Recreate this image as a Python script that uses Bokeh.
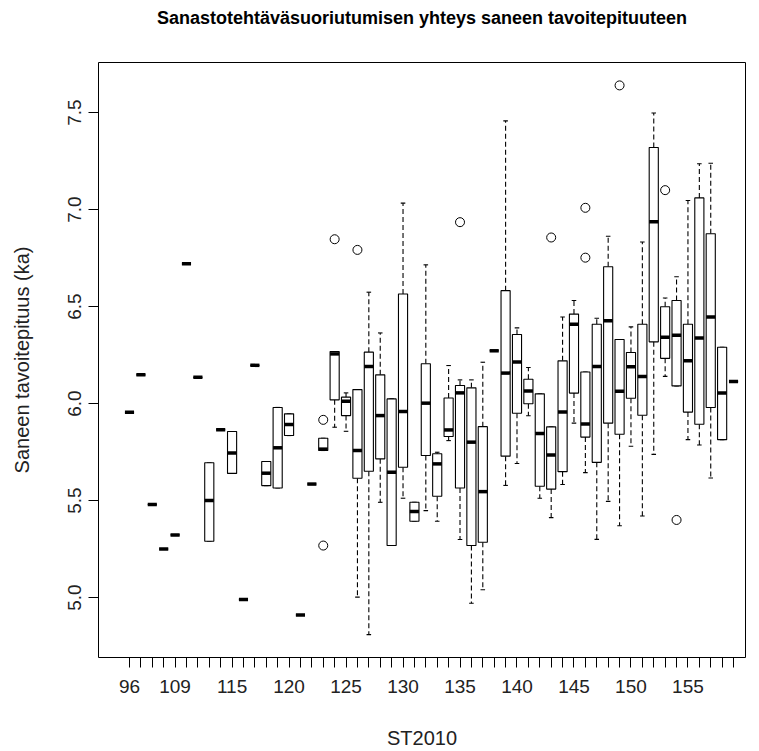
from bokeh.plotting import figure
from bokeh.models import Range1d, FixedTicker, PrintfTickFormatter, Title
from bokeh.embed import file_html
from bokeh.resources import INLINE

# ST2010 score groups (one box per group)
st2010 = [96, 100, 103, 106, 109, 110, 111, 112, 113, 115,
          116, 117, 118, 119, 120, 121, 122, 123, 124, 125,
          126, 127, 128, 129, 130, 131, 132, 133, 134, 135,
          136, 137, 138, 139, 140, 141, 142, 143, 144, 145,
          146, 147, 148, 149, 150, 151, 152, 153, 154, 155,
          156, 157, 158, 159]

# tick labels that are printed under the axis
shown_labels = [96, 109, 115, 120, 125, 130, 135, 140, 145, 150, 155]

# five-number summaries of "Saneen tavoitepituus (ka)" per group
whisker_low = [5.955, 6.148, 5.480, 5.250, 5.323, 6.720, 6.135, 5.290, 5.865, 5.640,
               4.990, 6.197, 5.577, 5.565, 5.835, 4.910, 5.585, 5.758, 5.878, 5.857,
               5.002, 4.809, 5.491, 5.268, 5.512, 5.393, 5.448, 5.393, 5.809, 5.299,
               4.971, 5.040, 6.272, 5.578, 5.691, 5.937, 5.512, 5.412, 5.583, 5.899,
               5.644, 5.300, 5.496, 5.370, 5.780, 5.420, 5.738, 6.140, 6.091, 5.814,
               5.786, 5.616, 5.814, 6.114]
quart_low = [5.955, 6.148, 5.480, 5.250, 5.323, 6.720, 6.135, 5.290, 5.865, 5.640,
             4.990, 6.197, 5.577, 5.565, 5.835, 4.910, 5.585, 5.758, 6.019, 5.938,
             5.615, 5.651, 5.715, 5.268, 5.672, 5.393, 5.732, 5.522, 5.830, 5.565,
             5.268, 5.285, 6.272, 5.729, 5.950, 5.999, 5.574, 5.559, 5.649, 6.054,
             5.827, 5.697, 5.899, 5.842, 6.027, 5.940, 6.318, 6.233, 6.091, 5.956,
             5.893, 5.980, 5.814, 6.114]
median = [5.955, 6.148, 5.480, 5.250, 5.323, 6.720, 6.135, 5.500, 5.865, 5.745,
          4.990, 6.197, 5.641, 5.772, 5.892, 4.910, 5.585, 5.765, 6.256, 6.012,
          5.758, 6.191, 5.938, 5.646, 5.959, 5.443, 6.002, 5.689, 5.864, 6.055,
          5.801, 5.546, 6.272, 6.157, 6.214, 6.065, 5.846, 5.735, 5.956, 6.409,
          5.895, 6.191, 6.427, 6.063, 6.190, 6.140, 6.937, 6.342, 6.352, 6.220,
          6.338, 6.446, 6.054, 6.114]
quart_high = [5.955, 6.148, 5.480, 5.250, 5.323, 6.720, 6.135, 5.695, 5.865, 5.856,
              4.990, 6.197, 5.701, 5.980, 5.947, 4.910, 5.585, 5.821, 6.268, 6.033,
              6.072, 6.265, 6.148, 6.024, 6.565, 5.491, 6.205, 5.741, 6.029, 6.093,
              6.081, 5.881, 6.272, 6.582, 6.356, 6.125, 6.050, 5.880, 6.220, 6.461,
              6.163, 6.409, 6.705, 6.330, 6.263, 6.409, 7.320, 6.499, 6.531, 6.409,
              7.060, 6.875, 6.290, 6.114]
whisker_high = [5.955, 6.148, 5.480, 5.250, 5.323, 6.720, 6.135, 5.695, 5.865, 5.856,
                4.990, 6.197, 5.701, 5.980, 5.947, 4.910, 5.585, 5.821, 6.268, 6.055,
                6.072, 6.574, 6.364, 6.024, 7.033, 5.491, 6.715, 5.749, 6.196, 6.122,
                6.122, 6.213, 6.272, 7.457, 6.390, 6.186, 6.050, 5.880, 6.446, 6.531,
                6.163, 6.440, 6.862, 6.330, 6.395, 6.833, 7.498, 6.544, 6.654, 7.047,
                7.236, 7.239, 6.290, 6.114]

# outlying group values
outlier_st = [123, 123, 124, 126, 135, 143, 146, 146, 149, 153, 154]
outlier_value = [5.916, 5.268, 6.847, 6.792, 6.935, 6.856, 7.009, 6.752, 7.640, 7.100, 5.400]

pos = list(range(1, len(st2010) + 1))
pos_of = {g: i + 1 for i, g in enumerate(st2010)}
half = 0.4      # half box width
staple = 0.2    # half staple width

p = figure(width=759, height=751,
           x_range=Range1d(-1.72, 55.05), y_range=Range1d(4.691, 7.758),
           output_backend="svg", toolbar_location=None,
           min_border_left=98, min_border_right=14,
           min_border_top=62, min_border_bottom=94)
p.grid.visible = False
p.outline_line_color = "black"
p.outline_line_width = 1
p.background_fill_color = "white"
p.border_fill_color = "white"

# empty strip that keeps the title up in the top margin
p.add_layout(Title(text=" ", text_font_size="1px", standoff=32), "above")

p.title.text = "Sanastotehtäväsuoriutumisen yhteys saneen tavoitepituuteen"
p.title.align = "center"
p.title.text_font = "Liberation Sans"
p.title.text_font_style = "bold"
p.title.text_font_size = "18px"
p.title.text_color = "black"
p.title.standoff = 0

# whiskers (dashed) and staples
p.segment(x0=pos, x1=pos, y0=quart_high, y1=whisker_high,
          line_color="black", line_width=1.1, line_dash="5 3")
p.segment(x0=pos, x1=pos, y0=quart_low, y1=whisker_low,
          line_color="black", line_width=1.1, line_dash="5 3")
p.segment(x0=[x - staple for x in pos], x1=[x + staple for x in pos],
          y0=whisker_high, y1=whisker_high, line_color="black", line_width=1.1)
p.segment(x0=[x - staple for x in pos], x1=[x + staple for x in pos],
          y0=whisker_low, y1=whisker_low, line_color="black", line_width=1.1)

# boxes
p.quad(left=[x - half for x in pos], right=[x + half for x in pos],
       bottom=quart_low, top=quart_high,
       fill_color="white", line_color="black", line_width=1.1)

# medians
p.segment(x0=[x - half for x in pos], x1=[x + half for x in pos],
          y0=median, y1=median, line_color="black", line_width=3.5,
          line_cap="butt")

# outliers
p.scatter(x=[pos_of[g] for g in outlier_st], y=outlier_value, marker="circle",
          size=9, fill_color=None, line_color="black", line_width=1)

# x axis: one tick per group, only some labels printed
p.xaxis.ticker = FixedTicker(ticks=pos)
p.xaxis.major_label_overrides = {
    i + 1: (str(g) if g in shown_labels else "") for i, g in enumerate(st2010)}
p.xaxis.bounds = (1, len(st2010))
p.xaxis.axis_label = "ST2010"

p.yaxis.ticker = FixedTicker(ticks=[5.0, 5.5, 6.0, 6.5, 7.0, 7.5])
p.yaxis.formatter = PrintfTickFormatter(format="%.1f")
p.yaxis.bounds = (5.0, 7.5)
p.yaxis.major_label_orientation = "vertical"
p.yaxis.axis_label = "Saneen tavoitepituus (ka)"

for ax in (p.xaxis[0], p.yaxis[0]):
    ax.axis_line_color = "black"
    ax.major_tick_line_color = "black"
    ax.major_tick_out = 10
    ax.major_tick_in = 0
    ax.minor_tick_line_color = None
    ax.major_label_text_font = "Liberation Sans"
    ax.major_label_text_font_size = "19px"
    ax.major_label_text_color = "#222222"
    ax.axis_label_text_font = "Liberation Sans"
    ax.axis_label_text_font_size = "20px"
    ax.axis_label_text_font_style = "normal"
    ax.axis_label_text_color = "#222222"

p.xaxis.major_label_standoff = 12
p.xaxis.axis_label_standoff = 31
p.yaxis.major_label_standoff = 7
p.yaxis.axis_label_standoff = 33

open("out.html", "w").write(file_html(p, INLINE))
